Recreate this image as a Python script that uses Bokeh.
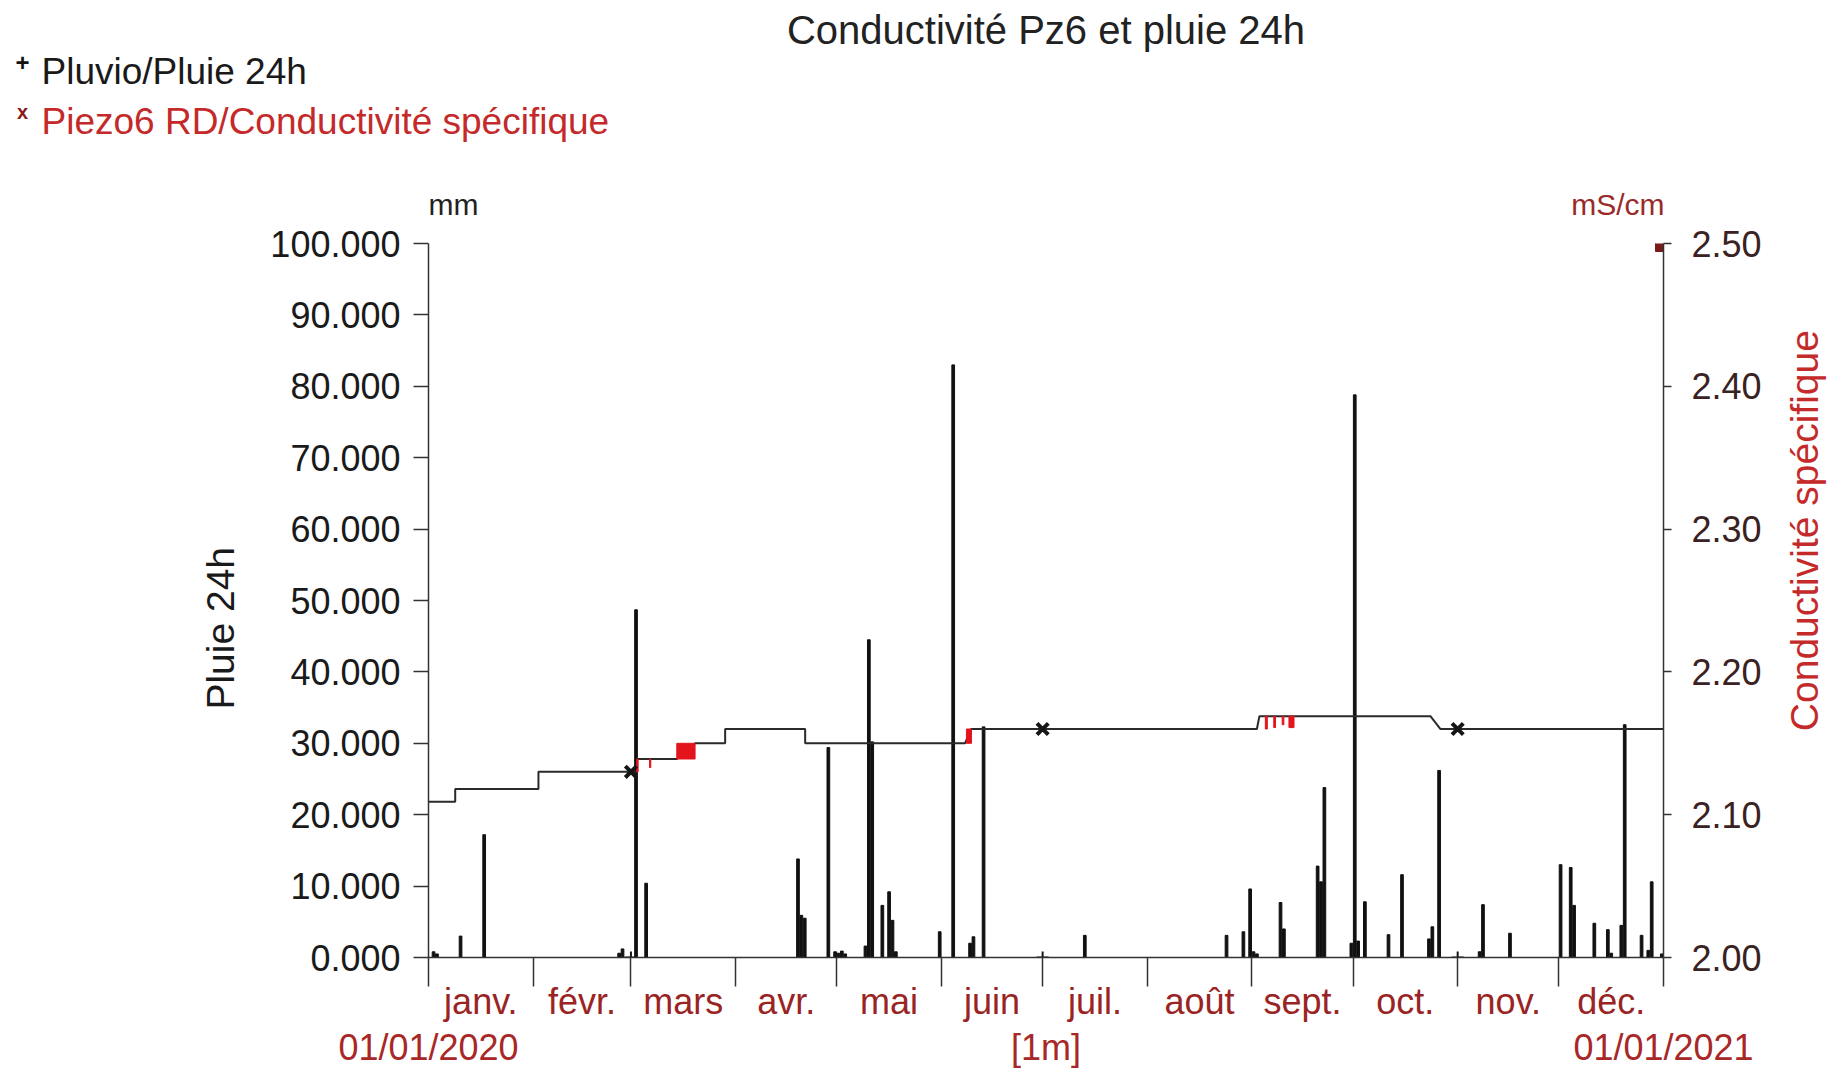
import math
import pandas as pd
from bokeh.plotting import figure
from bokeh.layouts import column, row
from bokeh.models import Range1d, LinearAxis, FixedTicker, NumeralTickFormatter
from bokeh.core.properties import value
from bokeh.embed import file_html
from bokeh.resources import INLINE

FONT = "Liberation Sans"

# ---------------- texts ----------------
TITLE = "Conductivité Pz6 et pluie 24h"
LEGEND_RAIN = "Pluvio/Pluie 24h"
LEGEND_COND = "Piezo6 RD/Conductivité spécifique"
Y_LEFT_LABEL = "Pluie 24h"
Y_RIGHT_LABEL = "Conductivité spécifique"
UNIT_LEFT = "mm"
UNIT_RIGHT = "mS/cm"
MONTHS = ["janv.", "févr.", "mars", "avr.", "mai", "juin",
          "juil.", "août", "sept.", "oct.", "nov.", "déc."]
X_START = "2020-01-01"
X_END = "2021-01-01"
DATE_START_LABEL = "01/01/2020"
DATE_END_LABEL = "01/01/2021"
PERIOD_LABEL = "[1m]"

left_ticks = [0, 10, 20, 30, 40, 50, 60, 70, 80, 90, 100]
right_ticks = [2.0, 2.1, 2.2, 2.3, 2.4, 2.5]

# ---------------- rain (mm / 24h) ----------------
rain_dates = ["2020-01-02", "2020-01-03", "2020-01-10", "2020-01-17", "2020-02-26",
              "2020-02-27", "2020-03-02", "2020-03-05", "2020-04-19", "2020-04-20",
              "2020-04-21", "2020-04-28", "2020-04-30", "2020-05-01", "2020-05-02",
              "2020-05-03", "2020-05-09", "2020-05-10", "2020-05-11", "2020-05-14",
              "2020-05-16", "2020-05-17", "2020-05-18", "2020-05-31", "2020-06-04",
              "2020-06-09", "2020-06-10", "2020-06-13", "2020-07-13", "2020-08-24",
              "2020-08-29", "2020-08-31", "2020-09-01", "2020-09-02", "2020-09-09",
              "2020-09-10", "2020-09-20", "2020-09-21", "2020-09-22", "2020-09-30",
              "2020-10-01", "2020-10-02", "2020-10-04", "2020-10-11", "2020-10-15",
              "2020-10-23", "2020-10-24", "2020-10-26", "2020-11-07", "2020-11-08",
              "2020-11-16", "2020-12-01", "2020-12-04", "2020-12-05", "2020-12-11",
              "2020-12-15", "2020-12-16", "2020-12-19", "2020-12-20", "2020-12-25",
              "2020-12-27", "2020-12-28", "2020-12-31"]
rain_mm = [0.8, 0.5, 3.0, 17.2, 0.6,
           1.2, 48.7, 10.4, 13.8, 5.9,
           5.5, 29.4, 0.8, 0.6, 0.9,
           0.5, 1.6, 44.5, 30.2, 7.3,
           9.2, 5.2, 0.8, 3.6, 83.0,
           2.0, 2.9, 32.3, 3.1, 3.1,
           3.6, 9.6, 0.8, 0.5, 7.7,
           4.0, 12.8, 10.6, 23.8, 2.0,
           78.8, 2.3, 7.8, 3.2, 11.6,
           2.6, 4.3, 26.2, 0.8, 7.4,
           3.4, 13.0, 12.6, 7.3, 4.8,
           3.9, 0.6, 4.5, 32.6, 3.1,
           1.0, 10.6, 0.5]

# ---------------- conductivity (mS/cm) ----------------
cond_time = ["2020-01-01 00:00", "2020-01-08 22:00", "2020-01-08 22:00", "2020-02-02 14:00",
             "2020-02-02 14:00", "2020-03-02 19:00", "2020-03-02 19:00", "2020-03-14 14:00",
             "2020-03-20 00:00", "2020-03-28 22:00", "2020-03-28 22:00", "2020-04-21 15:00",
             "2020-04-21 15:00", "2020-06-08 00:00", "2020-06-09 20:00", "2020-09-02 12:00",
             "2020-09-03 06:00", "2020-10-23 22:00", "2020-10-26 22:00", "2021-01-01 00:00"]
cond_val = [2.109, 2.109, 2.118, 2.118,
            2.130, 2.130, 2.139, 2.139,
            2.150, 2.150, 2.160, 2.160,
            2.150, 2.150, 2.160, 2.160,
            2.169, 2.169, 2.160, 2.160]

# measured (red) envelopes of the dense readings
red_start = ["2020-03-02 17:00", "2020-03-06 12:00", "2020-03-14 14:00", "2020-06-08 10:00",
             "2020-09-05 00:00", "2020-09-07 12:00", "2020-09-10 00:00", "2020-09-12 00:00"]
red_end = ["2020-03-03 03:00", "2020-03-06 21:00", "2020-03-20 00:00", "2020-06-09 22:00",
           "2020-09-05 14:00", "2020-09-08 00:00", "2020-09-10 12:00", "2020-09-13 12:00"]
red_lo = [2.130, 2.133, 2.139, 2.150, 2.160, 2.161, 2.163, 2.161]
red_hi = [2.139, 2.139, 2.150, 2.160, 2.169, 2.169, 2.169, 2.169]

marker_dates = ["2020-03-01", "2020-07-01", "2020-11-01"]
marker_cond = [2.130, 2.160, 2.160]
marker_rain = [0.0, 0.0, 0.0]

# ---------------- layout geometry (px) ----------------
W, H = 1831, 1070
HEAD_H = 222          # header strip height
LEFT_W = 258          # left strip width
RIGHT_W = 50          # right strip width
FRAME_L, FRAME_R, FRAME_T, FRAME_B = 428, 1663, 243, 957
MAIN_W = W - LEFT_W - RIGHT_W
MAIN_H = H - HEAD_H


def ms(s):
    return int(pd.Timestamp(s).value // 10**6)


def text_strip(width, height):
    f = figure(width=width, height=height, x_range=Range1d(0, width),
               y_range=Range1d(height, 0), min_border=0,
               x_axis_location=None, y_axis_location=None,
               toolbar_location=None, output_backend="svg")
    f.outline_line_color = None
    f.grid.visible = False
    f.background_fill_color = "white"
    f.border_fill_color = "white"
    return f


def put(f, x, y, text, size, color, align="left", angle=0.0, style="normal", font=FONT):
    f.text(x=[x], y=[y], text=[text], text_font=value(font),
           text_font_size=value(f"{size}px"), text_color=color,
           text_align=align, text_baseline="middle", angle=angle,
           text_font_style=style)


# ---------------- header ----------------
head = text_strip(W, HEAD_H)
put(head, (FRAME_L + FRAME_R) / 2, 29, TITLE, 40, "#222222", align="center")
put(head, 22, 62, "+", 24, "#111111", align="center", style="bold")
put(head, 41, 71, LEGEND_RAIN, 37, "#1a1a1a")
put(head, 22, 111, "x", 20, "#8a1a1a", align="center", style="bold")
put(head, 41, 121, LEGEND_COND, 37, "#c42a2a")
put(head, 453, 204, UNIT_LEFT, 30, "#222222", align="center")
put(head, FRAME_R + 1, 204, UNIT_RIGHT, 30, "#9a2a2a", align="right")

# ---------------- side strips ----------------
left = text_strip(LEFT_W, MAIN_H)
put(left, 220, 457, Y_LEFT_LABEL, 39, "#1a1a1a", align="center", angle=math.pi / 2)
right = text_strip(RIGHT_W, MAIN_H)
put(right, 1804 - (W - RIGHT_W), 341, Y_RIGHT_LABEL, 39, "#c42a2a",
    align="center", angle=math.pi / 2)

# ---------------- main chart ----------------
x0, x1 = ms(X_START), ms(X_END)
p = figure(width=MAIN_W, height=MAIN_H, x_axis_type="datetime",
           x_range=Range1d(x0, x1), y_range=Range1d(0, 100),
           output_backend="svg", toolbar_location=None,
           min_border_left=FRAME_L - LEFT_W, min_border_right=LEFT_W + MAIN_W - FRAME_R,
           min_border_top=FRAME_T - HEAD_H, min_border_bottom=H - FRAME_B)
p.extra_y_ranges = {"cond": Range1d(2.0, 2.5)}
p.outline_line_color = None
p.xgrid.visible = False
p.ygrid.visible = False
p.background_fill_color = "white"
p.border_fill_color = "white"

DAY = 86400000.0
rain_x = [ms(d) + DAY / 2 for d in rain_dates]
p.vbar(x=rain_x, top=rain_mm, width=0.8 * DAY, color="#111111")

p.line([ms(t) for t in cond_time], cond_val, y_range_name="cond",
       line_color="#2a2a2a", line_width=2)
p.quad(left=[ms(t) for t in red_start], right=[ms(t) for t in red_end],
       bottom=red_lo, top=red_hi, y_range_name="cond",
       fill_color="#e3141c", line_color="#e3141c", line_width=1)

p.scatter([ms(t) for t in marker_dates], marker_cond, y_range_name="cond",
          marker="x", size=16, line_width=4, color="#151515")
p.scatter([ms(t) for t in marker_dates], marker_rain,
          marker="cross", size=12, line_width=2, color="#151515")
p.scatter([x1], [right_ticks[-1]], y_range_name="cond", marker="square",
          size=16, color="#7a1a1a")

# x axis: month-start ticks (as minor ticks) and month names centred between them
month_starts = [ms(t) for t in pd.date_range(X_START, X_END, freq="MS")]
month_mids = [(a + b) // 2 for a, b in zip(month_starts[:-1], month_starts[1:])]
xa = p.xaxis[0]
xa.ticker = FixedTicker(ticks=month_mids, minor_ticks=month_starts)
xa.major_label_overrides = {m: name for m, name in zip(month_mids, MONTHS)}
xa.major_label_text_font = FONT
xa.major_label_text_font_size = "36px"
xa.major_label_text_color = "#9a2424"
xa.major_label_standoff = -6
xa.major_tick_out = 0
xa.major_tick_in = 0
xa.minor_tick_out = 29
xa.minor_tick_in = 0
xa.axis_line_color = "#333333"
xa.axis_line_width = 1.5
xa.minor_tick_line_color = "#333333"
xa.minor_tick_line_width = 1.5

date_ticks = [x0, (x0 + x1) // 2, x1]
xb = LinearAxis(ticker=FixedTicker(ticks=date_ticks, minor_ticks=[]))
xb.major_label_overrides = {date_ticks[0]: DATE_START_LABEL,
                            date_ticks[1]: PERIOD_LABEL,
                            date_ticks[2]: DATE_END_LABEL}
xb.major_label_text_font = FONT
xb.major_label_text_font_size = "36px"
xb.major_label_text_color = "#a82828"
xb.major_label_standoff = 2
xb.major_tick_out = 0
xb.major_tick_in = 0
xb.minor_tick_out = 0
xb.axis_line_color = None
p.add_layout(xb, "below")

# left axis
ya = p.yaxis[0]
ya.ticker = FixedTicker(ticks=left_ticks, minor_ticks=[])
ya.formatter = NumeralTickFormatter(format="0.000")
ya.major_label_text_font = FONT
ya.major_label_text_font_size = "36px"
ya.major_label_text_color = "#1a1a1a"
ya.major_label_standoff = 13
ya.major_tick_out = 15
ya.major_tick_in = 0
ya.minor_tick_out = 0
ya.minor_tick_in = 0
ya.axis_line_color = "#333333"
ya.axis_line_width = 1.5
ya.major_tick_line_color = "#333333"
ya.major_tick_line_width = 1.5

# right axis
ra = LinearAxis(y_range_name="cond",
                ticker=FixedTicker(ticks=right_ticks, minor_ticks=[]),
                formatter=NumeralTickFormatter(format="0.00"))
ra.major_label_text_font = FONT
ra.major_label_text_font_size = "36px"
ra.major_label_text_color = "#3a2222"
ra.major_label_standoff = 20
ra.major_tick_out = 8
ra.major_tick_in = 0
ra.minor_tick_out = 0
ra.minor_tick_in = 0
ra.axis_line_color = "#333333"
ra.axis_line_width = 1.5
ra.major_tick_line_color = "#333333"
ra.major_tick_line_width = 1.5
p.add_layout(ra, "right")

layout = column(head, row(left, p, right, spacing=0), spacing=0)
open("out.html", "w").write(file_html(layout, INLINE))
